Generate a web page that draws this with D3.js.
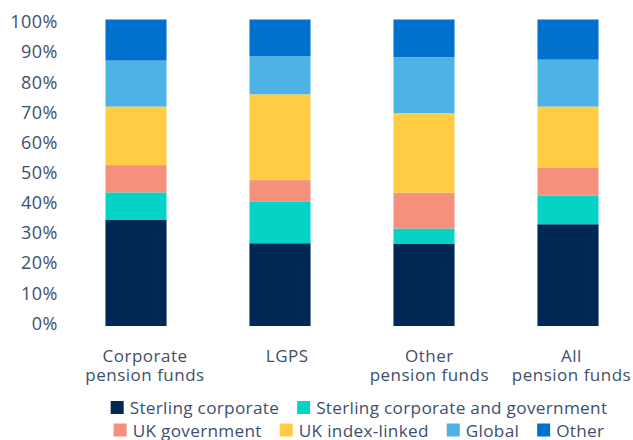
<!DOCTYPE html>
<html>
<head>
<meta charset="utf-8">
<script src="https://cdn.jsdelivr.net/npm/d3@7"></script>
<style>
  body { margin: 0; background: #fff; }
  text { font-family: "Open Sans", sans-serif; fill: #3d4f6e; }
</style>
</head>
<body>
<div id="chart"></div>
<script>
var width = 633;
var height = 440;

// data (share of holdings, %)
var categories = [["Corporate", "pension funds"], ["LGPS"], ["Other", "pension funds"], ["All", "pension funds"]];
var seriesNames = ["Sterling corporate", "Sterling corporate and government", "UK government", "UK index-linked", "Global", "Other"];
var sterlingCorporate = [34.6, 27.0, 26.9, 33.2];
var sterlingCorpGov = [9.0, 13.5, 4.9, 9.4];
var ukGovernment = [8.9, 7.1, 11.7, 9.1];
var ukIndexLinked = [19.1, 28.0, 26.0, 19.9];
var global = [15.0, 12.4, 18.2, 15.3];
var other = [13.4, 12.0, 12.3, 13.1];
var tickValues = [0, 10, 20, 30, 40, 50, 60, 70, 80, 90, 100];
var colors = ["#002855", "#04d3c6", "#f4907c", "#ffcc44", "#4cb3e4", "#0072ce"];

var series = [sterlingCorporate, sterlingCorpGov, ukGovernment, ukIndexLinked, global, other];

var rows = categories.map(function(c, i) {
  var r = { key: i };
  seriesNames.forEach(function(s, j) { r[s] = series[j][i]; });
  return r;
});

var svg = d3.select('#chart')
  .append('svg')
  .attr('width', width)
  .attr('height', height);

var x = d3.scaleBand()
  .domain(d3.range(categories.length))
  .range([64, 640])
  .paddingInner(0.576)
  .paddingOuter(0.288);

var y = d3.scaleLinear().domain([0, 100]).range([326, 19.5]);
var yTicks = d3.scaleLinear().domain([0, 100]).range([323.5, 22]);

var color = d3.scaleOrdinal().domain(seriesNames).range(colors);

var stacked = d3.stack().keys(seriesNames)(rows);

svg.append('g')
  .selectAll('g')
  .data(stacked)
  .enter()
  .append('g')
  .attr('fill', function(d) { return color(d.key); })
  .selectAll('rect')
  .data(function(d) { return d; })
  .enter()
  .append('rect')
  .attr('x', function(d, i) { return x(i); })
  .attr('width', x.bandwidth())
  .attr('y', function(d) { return y(d[1]); })
  .attr('height', function(d) { return y(d[0]) - y(d[1]); });

// y axis
var yAxis = d3.axisLeft(yTicks)
  .tickValues(tickValues)
  .tickSize(0)
  .tickPadding(0)
  .tickFormat(function(d) { return d + '%'; });

var yAxisGroup = svg.append('g')
  .attr('transform', 'translate(58,0)')
  .call(yAxis);
yAxisGroup.select('.domain').remove();
yAxisGroup.selectAll('text')
  .style('font-family', '"Open Sans", sans-serif')
  .style('font-size', '18px')
  .style('letter-spacing', '0.5px')
  .attr('fill', '#3d4f6e');

// category labels, one text per line
var xLabel = d3.scalePoint().domain(d3.range(categories.length)).range([145, 571.5]);

var catG = svg.append('g')
  .selectAll('g')
  .data(categories)
  .enter()
  .append('g')
  .attr('transform', function(d, i) { return 'translate(' + xLabel(i) + ',361.5)'; });

catG.selectAll('text')
  .data(function(d) { return d; })
  .enter()
  .append('text')
  .attr('text-anchor', 'middle')
  .style('font-size', '17px')
  .style('letter-spacing', '0.5px')
  .attr('y', function(d, i) { return i * 19.7; })
  .text(function(d) { return d; });

// legend
var legendRows = [[0, 1], [2, 3, 4, 5]];
var legendY = [414, 436.5];
var swatch = 13;
var swatchGap = 6;
var itemGap = 18;

legendRows.forEach(function(idx, r) {
  var g = svg.append('g');
  var cursor = 0;
  idx.forEach(function(k) {
    var item = g.append('g').attr('transform', 'translate(' + cursor + ',0)');
    item.append('rect')
      .attr('x', 0)
      .attr('y', legendY[r] - swatch)
      .attr('width', swatch)
      .attr('height', swatch)
      .attr('fill', colors[k]);
    var t = item.append('text')
      .attr('x', swatch + swatchGap)
      .attr('y', legendY[r])
      .style('font-size', '17.2px')
      .style('letter-spacing', '0.3px')
      .text(seriesNames[k]);
    cursor += swatch + swatchGap + t.node().getComputedTextLength() + itemGap;
  });
  var total = cursor - itemGap;
  g.attr('transform', 'translate(' + (359 - total / 2) + ',0)');
});
</script>
</body>
</html>
